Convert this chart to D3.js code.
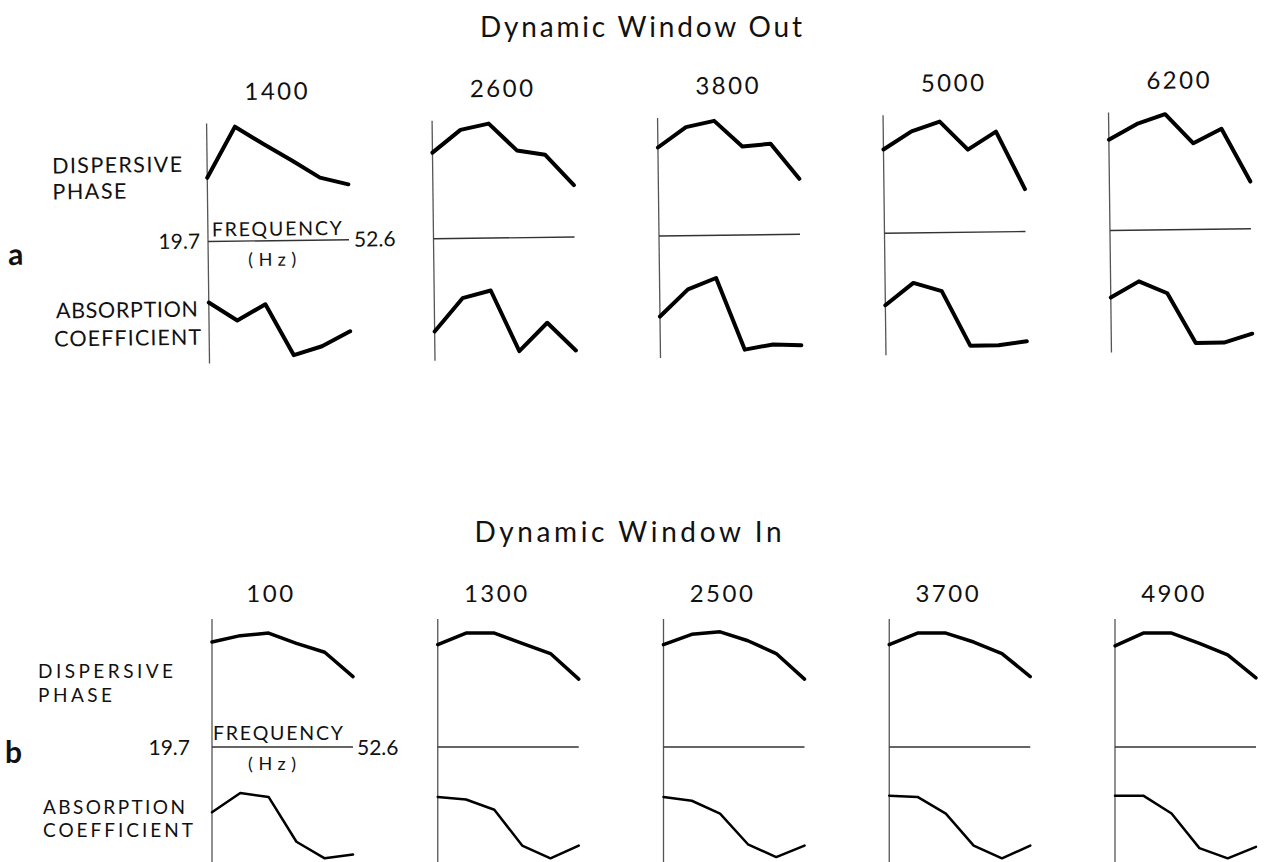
<!DOCTYPE html>
<html>
<head>
<meta charset="utf-8">
<script src="https://cdn.jsdelivr.net/npm/d3@7"></script>
<style>
  html, body { margin: 0; padding: 0; background: #fff; }
  text { font-family: "Lato", "Noto Sans", sans-serif; fill: #111; }
</style>
</head>
<body>
<svg id="chart" width="1268" height="862"></svg>
<script>
// Sampled frequencies (Hz) along each small panel's horizontal axis
const frequencies = [19.7, 26.3, 32.9, 39.4, 46.0, 52.6];

// Panel headings (time values) for the two runs
const outTimes = ["1400", "2600", "3800", "5000", "6200"];
const inTimes = ["100", "1300", "2500", "3700", "4900"];

// Dispersive phase, relative height above the frequency axis (1 = top of axis)
const outPhase = [
  [0.54, 0.97, 0.82, 0.68, 0.53, 0.47],
  [0.73, 0.92, 0.97, 0.74, 0.70, 0.44],
  [0.75, 0.92, 0.97, 0.75, 0.77, 0.47],
  [0.71, 0.86, 0.94, 0.70, 0.85, 0.36],
  [0.77, 0.90, 0.98, 0.73, 0.85, 0.40]
];
const inPhase = [
  [0.82, 0.87, 0.89, 0.81, 0.74, 0.55],
  [0.80, 0.89, 0.89, 0.81, 0.73, 0.53],
  [0.80, 0.88, 0.90, 0.83, 0.73, 0.53],
  [0.80, 0.89, 0.89, 0.82, 0.73, 0.55],
  [0.79, 0.89, 0.89, 0.81, 0.72, 0.54]
];

// Absorption coefficient, relative level below the frequency axis (0 = bottom of axis)
const outAbsorption = [
  [0.50, 0.35, 0.48, 0.06, 0.13, 0.25],
  [0.24, 0.51, 0.57, 0.07, 0.30, 0.07],
  [0.34, 0.56, 0.65, 0.06, 0.10, 0.09],
  [0.41, 0.59, 0.52, 0.07, 0.07, 0.10],
  [0.45, 0.58, 0.48, 0.07, 0.07, 0.14]
];
const inAbsorption = [
  [0.49, 0.64, 0.61, 0.26, 0.13, 0.16],
  [0.61, 0.59, 0.51, 0.23, 0.13, 0.23],
  [0.61, 0.58, 0.48, 0.24, 0.14, 0.23],
  [0.62, 0.61, 0.48, 0.23, 0.13, 0.23],
  [0.62, 0.62, 0.48, 0.21, 0.13, 0.22]
];

const svg = d3.select("#chart");
const panelWidth = 141;
const x = d3.scaleLinear()
  .domain([frequencies[0], frequencies[frequencies.length - 1]])
  .range([0, panelWidth]);

const rows = [
  {
    title: "Dynamic Window Out", titleX: 641, titleY: 37, titleLen: 322,
    letter: "a", letterX: 8, letterDy: 21,
    times: outTimes, phase: outPhase, absorption: outAbsorption,
    lineY: 236, colRange: [208, 1110], tilt: -0.7, pivot: [659, 236],
    phaseSpan: 118, absSpan: 122,
    headDx: 71, headDy: -141,
    phaseW: 4, absW: 4,
    labelSize: 21.5,
    labels: [
      { t: "DISPERSIVE", x: 53, dy: -70, len: 130 },
      { t: "PHASE", x: 53, dy: -44, len: 74 },
      { t: "ABSORPTION", x: 55, dy: 75, len: 142 },
      { t: "COEFFICIENT", x: 53, dy: 103, len: 147 }
    ],
    loDx: -8, hiDx: 146, endDy: 7,
    freqDx: 69, freqDy: -5, hzDx: 64, hzDy: 25
  },
  {
    title: "Dynamic Window In", titleX: 628, titleY: 542, titleLen: 307,
    letter: "b", letterX: 5, letterDy: 16,
    times: inTimes, phase: inPhase, absorption: inAbsorption,
    lineY: 747, colRange: [212, 1115], tilt: 0, pivot: [659, 747],
    phaseSpan: 128, absSpan: 128,
    headDx: 59, headDy: -145,
    phaseW: 3.5, absW: 2.5,
    labelSize: 19,
    labels: [
      { t: "DISPERSIVE", x: 38, dy: -69, len: 135 },
      { t: "PHASE", x: 38, dy: -45, len: 74 },
      { t: "ABSORPTION", x: 43, dy: 67, len: 142 },
      { t: "COEFFICIENT", x: 43, dy: 90, len: 150 }
    ],
    loDx: -22, hiDx: 145, endDy: 8,
    freqDx: 66, freqDy: -7, hzDx: 60, hzDy: 23
  }
];

rows.forEach(row => {
  // run title
  svg.append("text")
    .attr("x", row.titleX).attr("y", row.titleY)
    .attr("text-anchor", "middle")
    .attr("font-size", 28)
    .attr("textLength", row.titleLen)
    .attr("lengthAdjust", "spacing")
    .text(row.title);

  const g = svg.append("g")
    .attr("transform", `rotate(${row.tilt},${row.pivot[0]},${row.pivot[1]})`);

  const col = d3.scalePoint().domain(d3.range(row.times.length)).range(row.colRange);
  const phaseY = d3.scaleLinear().domain([0, 1]).range([0, -row.phaseSpan]);
  const absY = d3.scaleLinear().domain([0, 1]).range([row.absSpan, 0]);

  const phaseLine = d3.line().x((d, i) => x(frequencies[i])).y(d => phaseY(d));
  const absLine = d3.line().x((d, i) => x(frequencies[i])).y(d => absY(d));

  // row letter and series labels on the left
  g.append("text")
    .attr("x", row.letterX).attr("y", row.lineY + row.letterDy)
    .attr("font-size", 30).attr("font-weight", 700)
    .text(row.letter);

  row.labels.forEach(l => {
    g.append("text")
      .attr("x", l.x).attr("y", row.lineY + l.dy)
      .attr("font-size", row.labelSize)
      .attr("textLength", l.len).attr("lengthAdjust", "spacing")
      .text(l.t);
  });

  row.times.forEach((time, i) => {
    const p = g.append("g")
      .attr("transform", `translate(${col(i)},${row.lineY})`);

    // vertical axis spanning both halves
    p.append("line")
      .attr("x1", 0).attr("x2", 0)
      .attr("y1", phaseY(1)).attr("y2", absY(0))
      .attr("stroke", "#555").attr("stroke-width", 1.3);

    // frequency axis
    p.append("line")
      .attr("x1", x.range()[0]).attr("x2", x.range()[1])
      .attr("y1", 0).attr("y2", 0)
      .attr("stroke", "#333").attr("stroke-width", 1.4);

    p.append("text")
      .attr("x", row.headDx).attr("y", row.headDy)
      .attr("text-anchor", "middle")
      .attr("font-size", 24)
      .attr("letter-spacing", 2.5)
      .text(time);

    p.append("path")
      .attr("d", phaseLine(row.phase[i]))
      .attr("fill", "none").attr("stroke", "#000")
      .attr("stroke-width", row.phaseW)
      .attr("stroke-linejoin", "round").attr("stroke-linecap", "round");

    p.append("path")
      .attr("d", absLine(row.absorption[i]))
      .attr("fill", "none").attr("stroke", "#000")
      .attr("stroke-width", row.absW)
      .attr("stroke-linejoin", "round").attr("stroke-linecap", "round");

    if (i === 0) {
      p.append("text")
        .attr("x", row.loDx).attr("y", row.endDy)
        .attr("text-anchor", "end").attr("font-size", 21)
        .text(d3.format(".1f")(x.domain()[0]));
      p.append("text")
        .attr("x", row.hiDx).attr("y", row.endDy)
        .attr("font-size", 21)
        .text(d3.format(".1f")(x.domain()[1]));
      p.append("text")
        .attr("x", row.freqDx).attr("y", row.freqDy)
        .attr("text-anchor", "middle").attr("font-size", 19.5)
        .attr("textLength", 130).attr("lengthAdjust", "spacing")
        .text("FREQUENCY");
      p.append("text")
        .attr("x", row.hzDx).attr("y", row.hzDy)
        .attr("text-anchor", "middle").attr("font-size", 18)
        .attr("textLength", 48).attr("lengthAdjust", "spacing")
        .text("(Hz)");
    }
  });
});
</script>
</body>
</html>
